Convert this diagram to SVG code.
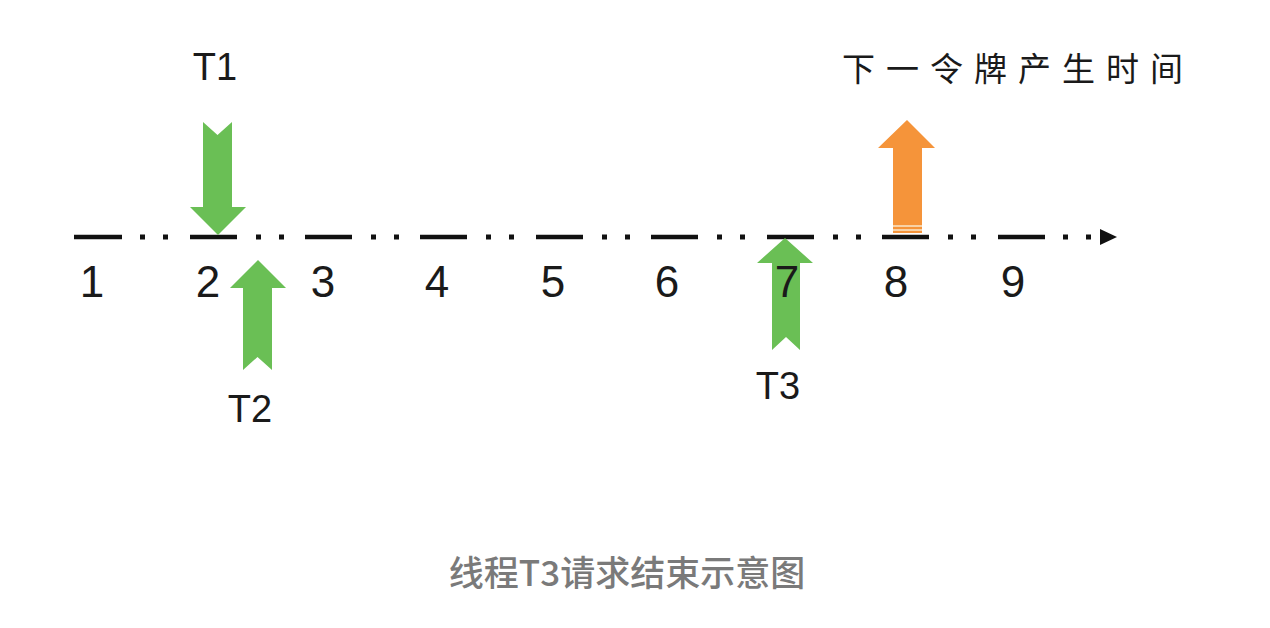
<svg xmlns="http://www.w3.org/2000/svg" width="1270" height="628" viewBox="0 0 1270 628">
<style>
.seg{stroke:#111;stroke-width:4.5;fill:none}
.dot{fill:#111}
.num{font-family:"Liberation Sans","DejaVu Sans",sans-serif;font-size:44px;fill:#1a1a1a;text-anchor:middle}
.lbl{font-family:"Liberation Sans","DejaVu Sans",sans-serif;font-size:38px;fill:#1a1a1a;text-anchor:middle}
.green{fill:#6abf55}
.orange{fill:#f5943a}
.cap{font-family:"Noto Sans CJK SC","Noto Sans",sans-serif;font-size:35px;font-weight:500;fill:#7a7a7a;text-anchor:middle}
.cn{font-family:"Noto Sans CJK SC",sans-serif;font-size:33px;fill:#1a1a1a;letter-spacing:11px}
</style>
<rect width="1270" height="628" fill="#fff"/>
<g id="timeline">
<g class="seg">
<line x1="74" y1="237" x2="122" y2="237"/>
<line x1="190" y1="237" x2="237" y2="237"/>
<line x1="305" y1="237" x2="352" y2="237"/>
<line x1="420" y1="237" x2="467" y2="237"/>
<line x1="536" y1="237" x2="583" y2="237"/>
<line x1="651" y1="237" x2="698" y2="237"/>
<line x1="767" y1="237" x2="814" y2="237"/>
<line x1="882" y1="237" x2="929" y2="237"/>
<line x1="998" y1="237" x2="1045" y2="237"/>
</g>
<g class="dot">
<rect x="140" y="234.5" width="5" height="5"/><rect x="163" y="234.5" width="5" height="5"/>
<rect x="256" y="234.5" width="5" height="5"/><rect x="279" y="234.5" width="5" height="5"/>
<rect x="371" y="234.5" width="5" height="5"/><rect x="394" y="234.5" width="5" height="5"/>
<rect x="486" y="234.5" width="5" height="5"/><rect x="509" y="234.5" width="5" height="5"/>
<rect x="602" y="234.5" width="5" height="5"/><rect x="625" y="234.5" width="5" height="5"/>
<rect x="717" y="234.5" width="5" height="5"/><rect x="740" y="234.5" width="5" height="5"/>
<rect x="833" y="234.5" width="5" height="5"/><rect x="856" y="234.5" width="5" height="5"/>
<rect x="948" y="234.5" width="5" height="5"/><rect x="971" y="234.5" width="5" height="5"/>
<rect x="1063" y="234.5" width="5" height="5"/><rect x="1086" y="234.5" width="5" height="5"/>
<polygon points="1100,229 1117,237 1100,245"/>
</g>
</g>
<g id="arrows">
<polygon id="arrow-t1" class="green" points="203,122 217.5,135 232,122 232,207 246,207 218,235 190,207 203,207"/>
<polygon id="arrow-t2" class="green" points="243,370 257.5,357 272,370 272,288 286,288 258,260 230,288 243,288"/>
<polygon id="arrow-t3" class="green" points="772,350 786,337 800,350 800,263 813,263 785,238 757,263 772,263"/>
<g id="arrow-next">
<polygon class="orange" points="893,233 922,233 922,148 935,148 907,120 878,148 893,148"/>
<rect x="893" y="225" width="29" height="2" fill="#f8d2a6"/>
<rect x="893" y="229" width="29" height="2" fill="#f8d2a6"/>
</g>
</g>
<g id="numbers">
<text class="num" x="92" y="297">1</text>
<text class="num" x="208" y="297">2</text>
<text class="num" x="323" y="297">3</text>
<text class="num" x="437" y="297">4</text>
<text class="num" x="553" y="297">5</text>
<text class="num" x="667" y="297">6</text>
<text class="num" x="787" y="297">7</text>
<text class="num" x="896" y="297">8</text>
<text class="num" x="1013" y="297">9</text>
</g>
<g id="labels">
<text class="lbl" x="215" y="80">T1</text>
<text class="lbl" x="250" y="422">T2</text>
<text class="lbl" x="778" y="399">T3</text>
<text class="cn" x="842" y="81">下一令牌产生时间</text>
</g>
<text id="caption" class="cap" x="627" y="586">线程T3请求结束示意图</text>
</svg>
